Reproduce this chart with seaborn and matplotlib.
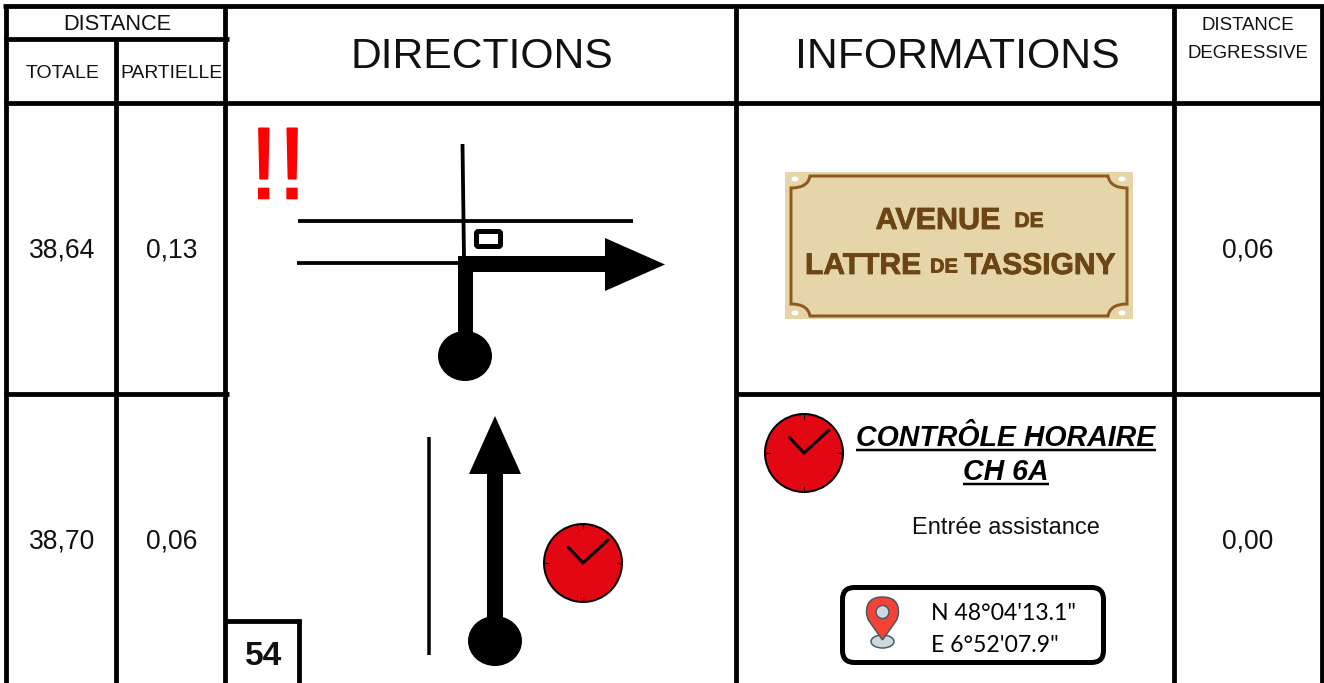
import matplotlib
matplotlib.use('Agg')
import matplotlib.pyplot as plt
import matplotlib.patheffects as pe
import seaborn as sns
from matplotlib.patches import Circle, Ellipse, FancyBboxPatch, PathPatch, Polygon
from matplotlib.path import Path

# roadbook data
header_dist = 'DISTANCE'
header_sub = ['TOTALE', 'PARTIELLE']
header_main = ['DIRECTIONS', 'INFORMATIONS']
header_deg = ['DISTANCE', 'DEGRESSIVE']
totale = ['38,64', '38,70']
partielle = ['0,13', '0,06']
degressive = ['0,06', '0,00']
case_no = '54'
alert = '!!'
plaque_words = ['AVENUE', 'DE', 'LATTRE', 'DE', 'TASSIGNY']
ch_title = ['CONTRÔLE HORAIRE', 'CH 6A']
ch_note = 'Entrée assistance'
gps = ['N 48°04\'13.1"', 'E 6°52\'07.9"']

sns.set_theme(style='white')
plt.rcParams['font.family'] = ['Liberation Sans', 'DejaVu Sans']

fig, ax = plt.subplots(figsize=(13.24, 6.83), dpi=100)
ax.set_position([0, 0, 1, 1])
PX = 0.72  # px -> pt


def rule(xs, ys, w=4.8, color='black'):
    sns.lineplot(x=xs, y=ys, ax=ax, color=color, linewidth=w * PX, sort=False,
                 estimator=None, errorbar=None, legend=False,
                 solid_capstyle='butt')


def label(x, y, s, px, **kw):
    kw.setdefault('ha', 'center')
    kw.setdefault('va', 'center_baseline')
    kw.setdefault('color', '#111111')
    return ax.text(x, y, s, fontsize=px * PX, **kw)


def clock(cx, cy, r):
    ax.add_patch(Circle((cx, cy), r, fc='#E30613', ec='black', lw=2 * PX, zorder=3))
    for dx, dy in [(0, -1), (0, 1), (-1, 0), (1, 0)]:
        ax.plot([cx + dx * (r - 5), cx + dx * r], [cy + dy * (r - 5), cy + dy * r],
                color='black', lw=1.3 * PX, zorder=4)
    ax.plot([cx - 14.5, cx, cx + 25], [cy - 15.5, cy, cy - 23], color='black',
            lw=3 * PX, zorder=4, solid_joinstyle='round')


# table rules
for x in [5.7, 116.2, 225, 736, 1174, 1321.5]:
    top = 39 if x == 116.2 else 5
    rule([x, x], [top, 683])
rule([3, 1324], [5.5, 5.5])
rule([4, 229], [39, 39])
rule([4, 1324], [102.5, 102.5])
rule([4, 229], [394, 394])
rule([735, 1324], [394, 394])
rule([226, 301], [621, 621])
rule([298.5, 298.5], [619, 683])

# header text
label(117, 22, header_dist, 21.8)
label(62.5, 71, header_sub[0], 19.5)
label(171.5, 71, header_sub[1], 19.3)
label(482, 53, header_main[0], 42.6)
label(957, 53, header_main[1], 42.8)
label(1248, 23, header_deg[0], 18.6)
label(1248, 51, header_deg[1], 18.6)

# values
for y, t, p, d in zip([247.5, 538.5], totale, partielle, degressive):
    label(62, y, t, 26.5)
    label(172, y, p, 26.5)
    label(1248, y, d, 26.5)

# first row drawing
label(278, 172, alert, 102, color='#FF0000', va='center',
      path_effects=[pe.withStroke(linewidth=1.2, foreground='#FF0000')])
rule([462.5, 464], [144, 258], w=3.8)
rule([298, 633], [221, 221], w=3.8)
rule([297, 460], [263, 263], w=3.8)
ax.add_patch(FancyBboxPatch((476.5, 231.5), 24, 15, boxstyle='round,pad=0,rounding_size=2',
                            fc='white', ec='black', lw=5 * PX))
ax.add_patch(Polygon([(458, 345), (458, 256), (605, 256), (605, 238), (665, 264.5),
                      (605, 291), (605, 272), (473, 272), (473, 345)], fc='black', ec='none'))
ax.add_patch(Ellipse((465, 356), 54, 50, fc='black', ec='none'))

# second row drawing
rule([428.5, 428.5], [437, 655], w=3.5)
ax.add_patch(Polygon([(487, 630), (487, 474), (469, 474), (495, 416), (521, 474),
                      (503, 474), (503, 630)], fc='black', ec='none'))
ax.add_patch(Ellipse((495, 641), 54, 50, fc='black', ec='none'))
clock(583, 563, 39)
label(264, 653, case_no, 33.5, fontweight='bold')

# plaque
ax.add_patch(plt.Rectangle((785, 172), 348, 147, fc='#E6D5A9', ec='none'))
L, R, T, B = 791, 1127, 176, 316
cx, cy = 19, 12
verts = [(L + cx, T), (R - cx, T), (R - cx + 2, T + cy), (R, T + cy), (R, B - cy),
         (R - cx + 2, B - cy), (R - cx, B), (L + cx, B), (L + cx - 2, B - cy), (L, B - cy),
         (L, T + cy), (L + cx - 2, T + cy), (L + cx, T), (L + cx, T)]
codes = [Path.MOVETO, Path.LINETO, Path.CURVE3, Path.CURVE3, Path.LINETO, Path.CURVE3,
         Path.CURVE3, Path.LINETO, Path.CURVE3, Path.CURVE3, Path.LINETO, Path.CURVE3,
         Path.CURVE3, Path.CLOSEPOLY]
ax.add_patch(PathPatch(Path(verts, codes), fc='none', ec='#8F5A22', lw=3 * PX))
for px_, py_ in [(795, 179), (1122, 179), (795, 313), (1122, 313)]:
    ax.add_patch(Ellipse((px_, py_), 7, 5, fc='white', ec='none'))
brown = '#6B4513'
heavy = [pe.withStroke(linewidth=0.6, foreground=brown)]
label(938, 218, plaque_words[0], 30.5, color=brown, fontweight='bold', path_effects=heavy)
label(1029, 219.5, plaque_words[1], 21, color=brown, fontweight='bold', path_effects=heavy)
label(863, 263, plaque_words[2], 30, color=brown, fontweight='bold', path_effects=heavy)
label(944, 265, plaque_words[3], 20, color=brown, fontweight='bold', path_effects=heavy)
label(1040, 263, plaque_words[4], 30, color=brown, fontweight='bold', path_effects=heavy)

# second row info
clock(804, 453, 39)
label(1006, 435, ch_title[0], 28.5, fontweight='bold', style='italic', color='black')
rule([856, 1156], [449.5, 449.5], w=2.5)
label(1006, 469, ch_title[1], 28.5, fontweight='bold', style='italic', color='black')
rule([963, 1049], [483.5, 483.5], w=2.5)
label(1006, 526, ch_note, 23.6)

ax.add_patch(FancyBboxPatch((842.5, 587.5), 261, 75, boxstyle='round,pad=0,rounding_size=12',
                            fc='white', ec='black', lw=5 * PX))
ax.add_patch(Ellipse((882.5, 641.5), 23, 13, fc='#CFD8DC', ec='#455A64', lw=1.5 * PX))
ax.add_patch(PathPatch(
    Path([(882.5, 640), (869, 621), (866.5, 617), (866.5, 612), (866.5, 597), (882.5, 597),
          (898.5, 597), (898.5, 612), (898.5, 617), (896, 621), (882.5, 640)],
         [Path.MOVETO, Path.LINETO, Path.CURVE3, Path.CURVE3, Path.CURVE3, Path.CURVE3,
          Path.CURVE3, Path.CURVE3, Path.CURVE3, Path.CURVE3, Path.LINETO]),
    fc='#F44336', ec='#455A64', lw=1.5 * PX))
ax.add_patch(Circle((882.5, 612), 6.5, fc='#CFD8DC', ec='#455A64', lw=1.5 * PX))
label(931, 611, gps[0], 23, ha='left', family=['Lato', 'DejaVu Sans'], color='black')
label(931, 644, gps[1], 23, ha='left', family=['Lato', 'DejaVu Sans'], color='black')

ax.set_xlim(0, 1324)
ax.set_ylim(683, 0)
ax.set_axis_off()
sns.despine(ax=ax, left=True, bottom=True)
fig.savefig('out.png', dpi=100, facecolor='white')
